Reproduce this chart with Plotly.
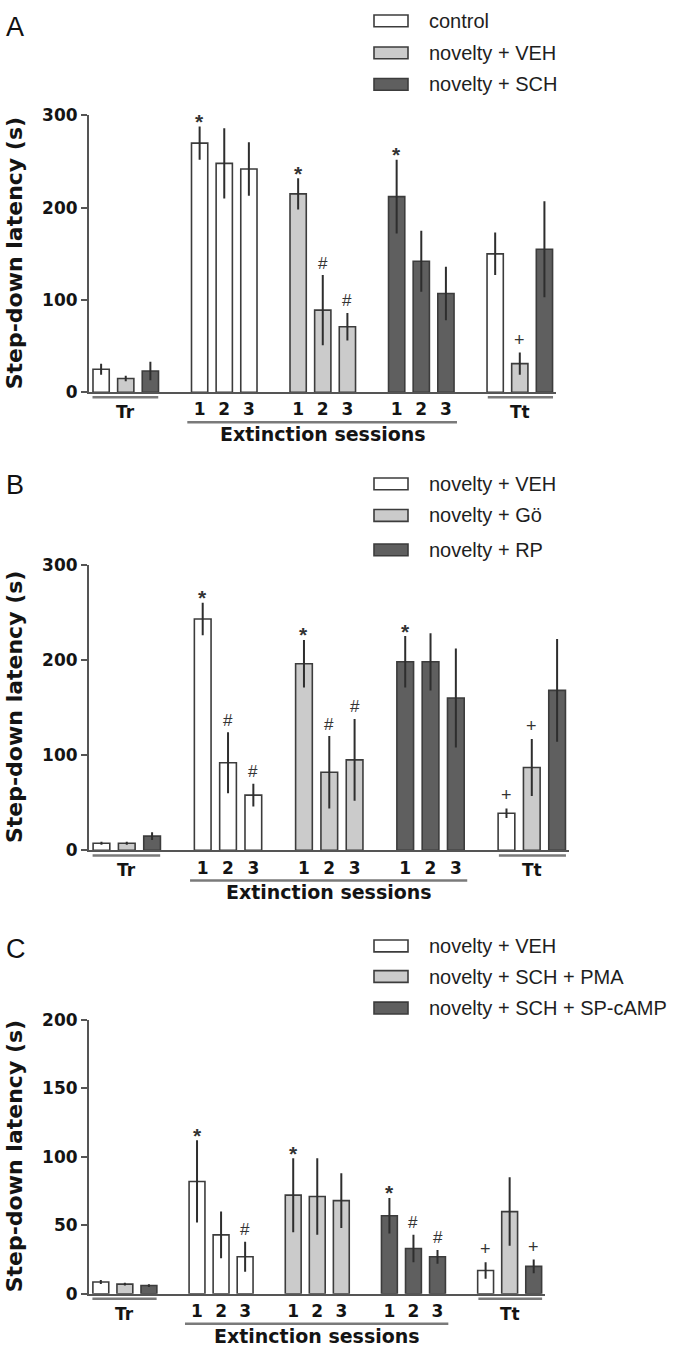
import plotly.graph_objects as go

# bar order inside each group: training, extinction sessions 1-3, test
sessions = ["Tr", "1", "2", "3", "Tt"]

a_groups = ["control", "novelty + VEH", "novelty + SCH"]
a_means = [[25, 270, 248, 242, 150], [15, 215, 89, 71, 31], [23, 212, 142, 107, 155]]
a_sem = [[6, 18, 38, 29, 23], [3, 17, 38, 15, 12], [10, 40, 33, 29, 52]]
a_marks = [["", "*", "", "", ""], ["", "*", "#", "#", "+"], ["", "*", "", "", ""]]

b_groups = ["novelty + VEH", "novelty + Gö", "novelty + RP"]
b_means = [[7.5, 243, 92, 58, 39], [7.5, 196, 82, 95, 87], [15, 198, 198, 160, 168]]
b_sem = [[1.5, 17, 32, 12, 5], [1.5, 25, 38, 43, 30], [4, 27, 30, 52, 54]]
b_marks = [["", "*", "#", "#", "+"], ["", "*", "#", "#", "+"], ["", "*", "", "", ""]]

c_groups = ["novelty + VEH", "novelty + SCH + PMA", "novelty + SCH + SP-cAMP"]
c_means = [[8.6, 82, 43, 27, 17], [7, 72, 71, 68, 60], [6, 57, 33, 27, 20]]
c_sem = [[1.5, 30, 17, 11, 6], [1, 27, 28, 20, 25], [1, 13, 10, 5, 5]]
c_marks = [["", "*", "", "#", "+"], ["", "*", "", "", ""], ["", "*", "#", "#", "+"]]

ab_ticks = [0, 100, 200, 300]
c_ticks = [0, 50, 100, 150, 200]

W, H = 677, 1354
FILLS = ["#ffffff", "#cbcbcb", "#5f5f5f"]
EDGE = "#3c3c3c"
BOLD = dict(family="DejaVu Sans", color="#141414", weight="bold")

panels = [
    dict(letter="A", groups=a_groups, means=a_means, sem=a_sem, marks=a_marks, ticks=ab_ticks,
         px_x=(88.8, 556), px_y=(107, 388), letter_y=17, legend_y=[11, 43.5, 75.5]),
    dict(letter="B", groups=b_groups, means=b_means, sem=b_sem, marks=b_marks, ticks=ab_ticks,
         px_x=(88.8, 569), px_y=(563, 853), letter_y=482, legend_y=[481, 513, 548]),
    dict(letter="C", groups=c_groups, means=c_means, sem=c_sem, marks=c_marks, ticks=c_ticks,
         px_x=(88.8, 545), px_y=(1025, 1303), letter_y=953, legend_y=[950, 981, 1013]),
]

# (font size, vertical offset above the error bar) for each significance sign
MARK_STYLE = {"*": (21, 5), "#": (17, 12), "+": (18, 13)}


def positions(s):
    # Tr bars at 0-2, extinction blocks of three separated by one empty slot, Tt at 16-18
    return [s, 4 + 4 * s, 5 + 4 * s, 6 + 4 * s, 16 + s]


fig = go.Figure()
shapes = []
annotations = []
layout = {}

for i, p in enumerate(panels, start=1):
    suffix = "" if i == 1 else str(i)
    xa, ya = f"x{suffix}", f"y{suffix}"
    for s, name in enumerate(p["groups"]):
        xs = positions(s)
        fig.add_trace(go.Bar(
            x=xs, y=p["means"][s], name=name, width=0.66, xaxis=xa, yaxis=ya, showlegend=False,
            marker=dict(color=FILLS[s], line=dict(color=EDGE, width=1.6)),
            error_y=dict(type="data", array=p["sem"][s], color="#2e2e2e", thickness=2, width=0),
        ))
        for x, m, e, mark in zip(xs, p["means"][s], p["sem"][s], p["marks"][s]):
            if mark:
                size, shift = MARK_STYLE[mark]
                annotations.append(dict(
                    x=x, y=m + e, xref=xa, yref=ya, text=mark, showarrow=False,
                    yanchor="middle", yshift=shift,
                    font=dict(family="Liberation Sans", size=size, color="#333333",
                              weight="bold" if mark == "*" else "normal"),
                ))

    x0, x1 = p["px_x"]
    y0, y1 = p["px_y"]
    ext_ticks = [v for s in range(3) for v in positions(s)[1:4]]
    layout[f"xaxis{suffix}"] = dict(
        domain=[x0 / W, x1 / W], anchor=ya, range=[-0.5, 18.47],
        showline=True, linecolor="#555555", linewidth=1.6, ticks="", showgrid=False, zeroline=False,
        tickvals=ext_ticks, ticktext=sessions[1:4] * 3, tickfont=dict(size=17, **BOLD),
        ticklabelstandoff=1,
    )
    layout[f"yaxis{suffix}"] = dict(
        domain=[1 - y1 / H, 1 - y0 / H], anchor=xa, range=[0, p["ticks"][-1]],
        tickvals=p["ticks"], showline=True, linecolor="#555555", linewidth=1.6,
        ticks="outside", ticklen=6, tickwidth=1.6, tickcolor="#555555",
        showgrid=False, zeroline=False, tickfont=dict(size=17, **BOLD),
    )

    # Tr / extinction / Tt brackets under the axis
    for lo, hi, dy in [(-0.35, 2.32, -5), (3.5, 14.45, -30), (15.7, 18.35, -5)]:
        shapes.append(dict(type="line", xref=xa, yref=f"{ya} domain", ysizemode="pixel", yanchor=0,
                           x0=lo, x1=hi, y0=dy, y1=dy, line=dict(color="#7a7a7a", width=2.5)))
    for text, x, dy in [(sessions[0], 1, -20), (sessions[4], 17, -20), ("Extinction sessions", 9, -42)]:
        annotations.append(dict(x=x, y=0, xref=xa, yref=f"{ya} domain", yshift=dy, text=text,
                                showarrow=False, yanchor="middle", font=dict(size=17 if len(text) < 3 else 19, **BOLD)))

    annotations.append(dict(x=14.5 / W, y=0.5, xref="paper", yref=f"{ya} domain", text="Step-down latency (s)",
                            textangle=-90, showarrow=False, xanchor="center", yanchor="middle",
                            font=dict(size=22, **BOLD)))
    annotations.append(dict(x=4 / W, y=1 - p["letter_y"] / H, xref="paper", yref="paper", text=p["letter"],
                            showarrow=False, xanchor="left", yanchor="middle",
                            font=dict(family="Liberation Sans", size=27, color="#111111")))

    # legend: wide swatches with labels
    for s, (name, ly) in enumerate(zip(p["groups"], p["legend_y"])):
        shapes.append(dict(type="rect", xref="paper", yref="paper",
                           x0=374 / W, x1=408 / W, y0=1 - (ly + 6) / H, y1=1 - (ly - 6) / H,
                           fillcolor=FILLS[s], line=dict(color=EDGE, width=1.6)))
        annotations.append(dict(x=427 / W, y=1 - ly / H, xref="paper", yref="paper", text=name,
                                showarrow=False, xanchor="left", yanchor="middle",
                                font=dict(family="Liberation Sans", size=20, color="#1e1e1e")))

fig.update_layout(
    width=W, height=H, autosize=False,
    margin=dict(l=0, r=0, t=0, b=0),
    paper_bgcolor="white", plot_bgcolor="white",
    barmode="overlay", showlegend=False,
    shapes=shapes, annotations=annotations,
    **layout,
)

# the page's default body margin would push the fixed-size figure off the window
fig.write_html(
    "out.html",
    config={"displayModeBar": False},
    post_script="document.body.style.margin='0';document.body.style.overflow='hidden';",
)
